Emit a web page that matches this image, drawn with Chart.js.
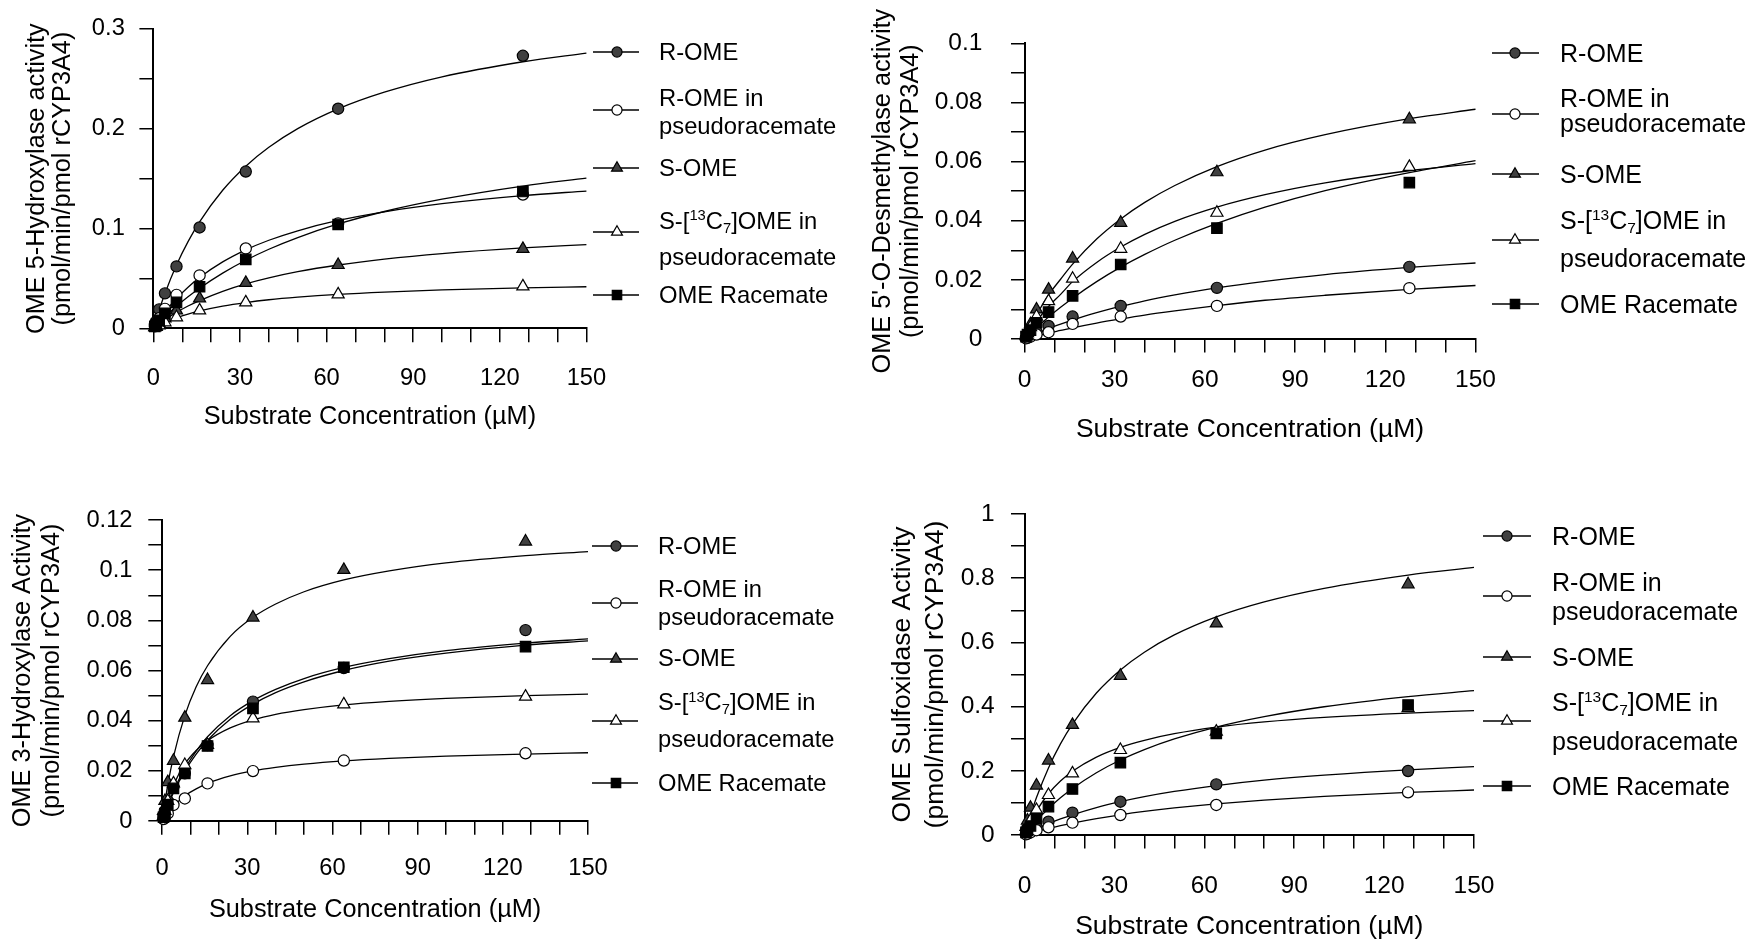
<!DOCTYPE html>
<html>
<head>
<meta charset="utf-8">
<title>OME metabolism by rCYP3A4</title>
<script src="https://cdn.jsdelivr.net/npm/chart.js@4.4.1/dist/chart.umd.min.js"></script>
<style>
	html, body { margin: 0; padding: 0; background: #fff; }
	body { width: 1752px; height: 941px; position: relative; overflow: hidden; }
	canvas.panel { position: absolute; }
</style>
</head>
<body>
<canvas class="panel" id="panel5oh" width="860" height="460" style="left:0px;top:0px"></canvas>
<canvas class="panel" id="panelOdm" width="892" height="460" style="left:860px;top:0px"></canvas>
<canvas class="panel" id="panel3oh" width="860" height="471" style="left:0px;top:470px"></canvas>
<canvas class="panel" id="panelSox" width="892" height="471" style="left:860px;top:470px"></canvas>
<script>
// Substrate concentrations (µM) of the measured points
const concentrations = [0.5, 1, 2, 4, 8, 16, 32, 64, 128];
const fitConcentrations = [0, 2, 4, 8, 12, 16, 24, 32, 40, 50, 64, 80, 100, 128, 150];
const xTickLabels = [0, 30, 60, 90, 120, 150];

// OME 5-hydroxylase activity
const oh5_rOme = [0.004, 0.007, 0.019, 0.035, 0.062, 0.101, 0.157, 0.220, 0.273];
const oh5_rOmePseudo = [0.002, 0.005, 0.010, 0.0195, 0.0335, 0.053, 0.080, 0.105, 0.134];
const oh5_sOme = [0.0015, 0.003, 0.005, 0.010, 0.018, 0.030, 0.0455, 0.0634, 0.0796];
const oh5_s13Pseudo = [0.001, 0.0015, 0.003, 0.006, 0.011, 0.018, 0.026, 0.034, 0.042];
const oh5_racemate = [0.002, 0.004, 0.008, 0.015, 0.026, 0.0416, 0.069, 0.104, 0.137];
const oh5_rOmeFit = [0, 0.0184, 0.0349, 0.0633, 0.0868, 0.1067, 0.1383, 0.1624, 0.1813, 0.2, 0.2198, 0.2365, 0.2519, 0.267, 0.2757];
const oh5_rOmePseudoFit = [0, 0.0086, 0.0163, 0.0298, 0.0412, 0.0509, 0.0665, 0.0786, 0.0882, 0.0977, 0.108, 0.1167, 0.1248, 0.1329, 0.1375];
const oh5_sOmeFit = [0, 0.0045, 0.0086, 0.0159, 0.0223, 0.0278, 0.0371, 0.0445, 0.0505, 0.0567, 0.0634, 0.0693, 0.0749, 0.0806, 0.0839];
const oh5_s13PseudoFit = [0, 0.0031, 0.0059, 0.0105, 0.0143, 0.0174, 0.0222, 0.0258, 0.0286, 0.0312, 0.034, 0.0363, 0.0384, 0.0405, 0.0416];
const oh5_racemateFit = [0, 0.006, 0.0116, 0.0221, 0.0316, 0.0402, 0.0553, 0.0682, 0.0792, 0.0909, 0.1045, 0.117, 0.1293, 0.1425, 0.1505];

// OME 5'-O-desmethylase activity
const odm_rOme = [0.0004, 0.0007, 0.0013, 0.0025, 0.0044, 0.0076, 0.0112, 0.0173, 0.0244];
const odm_rOmePseudo = [0.0002, 0.0004, 0.0008, 0.0015, 0.0023, 0.0051, 0.0076, 0.0112, 0.0172];
const odm_sOme = [0.0013, 0.0025, 0.005, 0.0100, 0.0167, 0.0272, 0.0393, 0.0564, 0.0743];
const odm_s13Pseudo = [0.001, 0.002, 0.004, 0.0076, 0.0128, 0.0204, 0.0305, 0.0427, 0.0582];
const odm_racemate = [0.0008, 0.0015, 0.003, 0.0055, 0.0091, 0.0146, 0.0252, 0.0375, 0.0529];
const odm_rOmeFit = [0, 0.0009, 0.0018, 0.0035, 0.005, 0.0064, 0.0089, 0.011, 0.0129, 0.0149, 0.0173, 0.0195, 0.0218, 0.0242, 0.0257];
const odm_rOmePseudoFit = [0, 0.0005, 0.001, 0.002, 0.0029, 0.0038, 0.0054, 0.0068, 0.0081, 0.0095, 0.0113, 0.0131, 0.0148, 0.0168, 0.0181];
const odm_sOmeFit = [0, 0.0042, 0.0081, 0.0149, 0.0202, 0.0253, 0.0338, 0.0406, 0.0462, 0.0519, 0.0583, 0.0639, 0.0691, 0.0745, 0.0777];
const odm_s13PseudoFit = [0, 0.0031, 0.006, 0.011, 0.0151, 0.0194, 0.0259, 0.0311, 0.0354, 0.0398, 0.0446, 0.0488, 0.0528, 0.0569, 0.0593];
const odm_racemateFit = [0, 0.002, 0.0038, 0.0074, 0.0107, 0.0138, 0.0194, 0.0243, 0.0286, 0.0334, 0.0391, 0.0446, 0.0502, 0.0563, 0.0603];

// OME 3-hydroxylase activity
const oh3_rOme = [0.002, 0.004, 0.008, 0.0137, 0.019, 0.0303, 0.0476, 0.061, 0.0761];
const oh3_rOmePseudo = [0.0008, 0.0015, 0.003, 0.0064, 0.009, 0.015, 0.0199, 0.0241, 0.027];
const oh3_sOme = [0.004, 0.008, 0.0155, 0.024, 0.0412, 0.0562, 0.0811, 0.1001, 0.1114];
const oh3_s13Pseudo = [0.002, 0.004, 0.008, 0.015, 0.0223, 0.0303, 0.0409, 0.0465, 0.0496];
const oh3_racemate = [0.0015, 0.003, 0.0065, 0.013, 0.019, 0.0299, 0.0449, 0.0613, 0.0695];
const oh3_rOmeFit = [0, 0.0064, 0.012, 0.0209, 0.0279, 0.0336, 0.042, 0.048, 0.0525, 0.0568, 0.0612, 0.0647, 0.0679, 0.0709, 0.0726];
const oh3_rOmePseudoFit = [0, 0.0033, 0.006, 0.01, 0.0128, 0.015, 0.018, 0.02, 0.0214, 0.0227, 0.024, 0.025, 0.0259, 0.0267, 0.0272];
const oh3_sOmeFit = [0, 0.0144, 0.0256, 0.042, 0.0535, 0.0619, 0.0736, 0.0812, 0.0865, 0.0914, 0.0961, 0.0997, 0.1029, 0.1058, 0.1074];
const oh3_s13PseudoFit = [0, 0.0082, 0.0143, 0.0227, 0.0281, 0.032, 0.0371, 0.0403, 0.0425, 0.0444, 0.0463, 0.0477, 0.0489, 0.05, 0.0506];
const oh3_racemateFit = [0, 0.0061, 0.0113, 0.0199, 0.0267, 0.0322, 0.0406, 0.0466, 0.0512, 0.0555, 0.06, 0.0637, 0.0669, 0.0701, 0.0718];

// OME sulfoxidase activity
const sox_rOme = [0.004, 0.007, 0.013, 0.025, 0.0415, 0.0696, 0.1038, 0.1578, 0.1994];
const sox_rOmePseudo = [0.002, 0.004, 0.008, 0.015, 0.0239, 0.0384, 0.0623, 0.0935, 0.1329];
const sox_sOme = [0.025, 0.045, 0.085, 0.154, 0.232, 0.343, 0.496, 0.659, 0.781];
const sox_s13Pseudo = [0.012, 0.025, 0.045, 0.078, 0.1246, 0.192, 0.2648, 0.322, 0.395];
const sox_racemate = [0.008, 0.014, 0.028, 0.052, 0.0883, 0.1433, 0.2253, 0.3167, 0.405];
const sox_rOmeFit = [0, 0.0097, 0.0187, 0.0352, 0.0499, 0.063, 0.0855, 0.104, 0.1196, 0.1358, 0.1541, 0.1709, 0.1864, 0.2031, 0.2129];
const sox_rOmePseudoFit = [0, 0.0055, 0.0107, 0.0203, 0.0291, 0.0371, 0.0511, 0.063, 0.0733, 0.0842, 0.0969, 0.1086, 0.1203, 0.1327, 0.1402];
const sox_sOmeFit = [0, 0.0619, 0.1166, 0.2088, 0.2837, 0.3456, 0.4422, 0.514, 0.5695, 0.6233, 0.6795, 0.7263, 0.7686, 0.8099, 0.8334];
const sox_s13PseudoFit = [0, 0.0412, 0.0753, 0.1285, 0.168, 0.1985, 0.2427, 0.273, 0.2951, 0.3155, 0.336, 0.3522, 0.3664, 0.3798, 0.3872];
const sox_racemateFit = [0, 0.023, 0.0443, 0.0822, 0.1158, 0.145, 0.194, 0.2336, 0.2661, 0.2994, 0.3363, 0.3687, 0.3995, 0.431, 0.4496];

(function() {
	'use strict';

	const FONT = '"Liberation Sans", Arial, Helvetica, sans-serif';
	const DARK = '#404040';

	/**
	 * Marker look of each series, in series order
	 */
	const seriesStyles = [
		{ shape: 'circle', fill: DARK, radius: 5.6 },
		{ shape: 'circle', fill: '#ffffff', radius: 5.6 },
		{ shape: 'triangle', fill: DARK, radius: 7 },
		{ shape: 'triangle', fill: '#ffffff', radius: 7 },
		{ shape: 'rect', fill: '#000000', radius: 7.4 }
	];

	// Legend text, one array of lines per series (sup / sub for the isotope label)
	const legendText = [
		[[{ t: 'R-OME' }]],
		[[{ t: 'R-OME in' }], [{ t: 'pseudoracemate' }]],
		[[{ t: 'S-OME' }]],
		[[{ t: 'S-[' }, { t: '13', sup: true }, { t: 'C' }, { t: '7', sub: true }, { t: ']OME in' }], [{ t: 'pseudoracemate' }]],
		[[{ t: 'OME Racemate' }]]
	];

	/**
	 * Panel layouts (page coordinates)
	 */
	const panels = [
		{
			canvas: 'panel5oh', left: 0, top: 0,
			area: { left: 153.4, top: 20.7, right: 586.4, bottom: 328.3 },
			yMax: 0.3, yStep: 0.05, yMajor: 0.1,
			yTitle: ['OME 5-Hydroxylase activity', '(pmol/min/pmol rCYP3A4)'],
			points: [oh5_rOme, oh5_rOmePseudo, oh5_sOme, oh5_s13Pseudo, oh5_racemate],
			fits: [oh5_rOmeFit, oh5_rOmePseudoFit, oh5_sOmeFit, oh5_s13PseudoFit, oh5_racemateFit],
			tickFont: 23.7, titleFont: 25.3, yTitleFont: 25.3, legendFont: 23.8,
			tickLength: 14, yPad: 14.6, xPad: 21.8,
			xTitleY: 417, yTitleX: 37.4, yTitleGap: 25.7,
			legend: {
				lineX0: 593, lineX1: 639, markerX: 617, textX: 659,
				markerY: [52, 110, 168, 232, 295],
				textY: [[52], [98, 125.7], [168], [220.5, 256.5], [295]]
			}
		},
		{
			canvas: 'panelOdm', left: 860, top: 0,
			area: { left: 1024.5, top: 21.7, right: 1475.5, bottom: 339 },
			yMax: 0.1, yStep: 0.01, yMajor: 0.02,
			yTitle: ["OME 5'-O-Desmethylase activity", '(pmol/min/pmol rCYP3A4)'],
			points: [odm_rOme, odm_rOmePseudo, odm_sOme, odm_s13Pseudo, odm_racemate],
			fits: [odm_rOmeFit, odm_rOmePseudoFit, odm_sOmeFit, odm_s13PseudoFit, odm_racemateFit],
			tickFont: 24.5, titleFont: 26.5, yTitleFont: 25.3, legendFont: 25,
			tickLength: 13.5, yPad: 28.6, xPad: 12.8,
			xTitleY: 430, yTitleX: 883.5, yTitleGap: 28,
			legend: {
				lineX0: 1492, lineX1: 1539, markerX: 1515, textX: 1560,
				markerY: [53, 114, 174, 240, 304],
				textY: [[53], [98.3, 123.3], [174], [220, 258], [304]]
			}
		},
		{
			canvas: 'panel3oh', left: 0, top: 470,
			area: { left: 162.1, top: 520, right: 588, bottom: 821 },
			yMax: 0.12, yStep: 0.01, yMajor: 0.02,
			yTitle: ['OME 3-Hydroxylase Activity', '(pmol/min/pmol rCYP3A4)'],
			points: [oh3_rOme, oh3_rOmePseudo, oh3_sOme, oh3_s13Pseudo, oh3_racemate],
			fits: [oh3_rOmeFit, oh3_rOmePseudoFit, oh3_sOmeFit, oh3_s13PseudoFit, oh3_racemateFit],
			tickFont: 23.7, titleFont: 25.3, yTitleFont: 25.3, legendFont: 23.7,
			tickLength: 13.8, yPad: 15.8, xPad: 19.3,
			xTitleY: 910, yTitleX: 23.5, yTitleGap: 29,
			legend: {
				lineX0: 592, lineX1: 638, markerX: 616, textX: 658,
				markerY: [546, 603, 659, 721, 783],
				textY: [[546], [589, 617], [658], [702, 739], [783]]
			}
		},
		{
			canvas: 'panelSox', left: 860, top: 470,
			area: { left: 1024.5, top: 514, right: 1474, bottom: 835 },
			yMax: 1, yStep: 0.1, yMajor: 0.2,
			yTitle: ['OME Sulfoxidase Activity', '(pmol/min/pmol rCYP3A4)'],
			points: [sox_rOme, sox_rOmePseudo, sox_sOme, sox_s13Pseudo, sox_racemate],
			fits: [sox_rOmeFit, sox_rOmePseudoFit, sox_sOmeFit, sox_s13PseudoFit, sox_racemateFit],
			tickFont: 24.5, titleFont: 26.5, yTitleFont: 26.5, legendFont: 25,
			tickLength: 13.5, yPad: 16.3, xPad: 23.5,
			xTitleY: 926.7, yTitleX: 902.9, yTitleGap: 32.6,
			legend: {
				lineX0: 1483, lineX1: 1531, markerX: 1507, textX: 1552,
				markerY: [536, 596, 657, 721, 786],
				textY: [[536], [582, 611], [657], [702, 741], [786]]
			}
		}
	];

	const OmeFigure = {

		/**
		 * Build all four panels
		 */
		init: function() {
			panels.forEach(this.renderPanel, this);
		},

		/**
		 * Tick label: drop trailing zeros ("0.1", "0.02", "0")
		 */
		formatValue: function(v) {
			return String(parseFloat(v.toFixed(4)));
		},

		/**
		 * Draw one marker shape
		 */
		drawMarker: function(ctx, style, x, y) {
			const r = style.radius;
			ctx.beginPath();
			if (style.shape === 'circle') {
				ctx.arc(x, y, r, 0, Math.PI * 2);
			} else if (style.shape === 'triangle') {
				ctx.moveTo(x, y - r);
				ctx.lineTo(x + r * 0.866, y + r * 0.5);
				ctx.lineTo(x - r * 0.866, y + r * 0.5);
				ctx.closePath();
			} else {
				const s = r * Math.SQRT1_2;
				ctx.rect(x - s, y - s, 2 * s, 2 * s);
			}
			ctx.fillStyle = style.fill;
			ctx.fill();
			ctx.lineWidth = 1.2;
			ctx.strokeStyle = '#000';
			ctx.stroke();
		},

		/**
		 * Draw one legend text line made of plain / sup / sub parts
		 */
		drawRichLine: function(ctx, parts, x, y, size) {
			let cx = x;
			parts.forEach(function(p) {
				let fs = size;
				let dy = 0;
				if (p.sup) { fs = size * 0.62; dy = -size * 0.36; }
				if (p.sub) { fs = size * 0.62; dy = size * 0.17; }
				ctx.font = fs + 'px ' + FONT;
				ctx.fillText(p.t, cx, y + dy);
				cx += ctx.measureText(p.t).width;
			});
		},

		/**
		 * Legend plugin for a panel (drawn to the right of the plot)
		 */
		legendPlugin: function(panel) {
			const self = this;
			return {
				id: 'panelLegend',
				afterDraw: function(chart) {
					const ctx = chart.ctx;
					const lg = panel.legend;
					const ox = panel.left;
					const oy = panel.top;
					ctx.save();
					ctx.textBaseline = 'alphabetic';
					ctx.textAlign = 'left';
					ctx.fillStyle = '#000';
					seriesStyles.forEach(function(style, i) {
						const my = lg.markerY[i] - oy;
						ctx.beginPath();
						ctx.moveTo(lg.lineX0 - ox, my);
						ctx.lineTo(lg.lineX1 - ox, my);
						ctx.lineWidth = 1.5;
						ctx.strokeStyle = '#000';
						ctx.stroke();
						self.drawMarker(ctx, { shape: style.shape, fill: style.fill, radius: style.radius * 0.9 }, lg.markerX - ox, my);
						ctx.fillStyle = '#000';
						legendText[i].forEach(function(line, j) {
							const baseline = lg.textY[i][j] - oy + panel.legendFont * 0.34;
							self.drawRichLine(ctx, line, lg.textX - ox, baseline, panel.legendFont);
						});
					});
					ctx.restore();
				}
			};
		},

		/**
		 * Create the Chart.js scatter chart for one panel
		 */
		renderPanel: function(panel) {
			const self = this;
			const canvas = document.getElementById(panel.canvas);
			const W = canvas.width;
			const H = canvas.height;
			const area = {
				left: panel.area.left - panel.left,
				right: panel.area.right - panel.left,
				top: panel.area.top - panel.top,
				bottom: panel.area.bottom - panel.top
			};

			const datasets = [];
			// measured points, racemate drawn on top
			panel.points.forEach(function(values, i) {
				const style = seriesStyles[i];
				datasets.push({
					label: 'points ' + i,
					data: concentrations.map(function(c, k) { return { x: c, y: values[k] }; }),
					showLine: false,
					pointStyle: style.shape,
					pointRadius: style.radius,
					pointBackgroundColor: style.fill,
					pointBorderColor: '#000',
					pointBorderWidth: 1.2,
					clip: false,
					order: 4 - i
				});
			});
			// fitted curves
			panel.fits.forEach(function(values, i) {
				datasets.push({
					label: 'fit ' + i,
					data: fitConcentrations.map(function(c, k) { return { x: c, y: values[k] }; }),
					showLine: true,
					pointRadius: 0,
					borderColor: '#000',
					borderWidth: 1.3,
					cubicInterpolationMode: 'monotone',
					fill: false,
					clip: false,
					order: 10
				});
			});

			const tickFont = { family: FONT, size: panel.tickFont, lineHeight: 1.2 };
			const xTitleFont = { family: FONT, size: panel.titleFont, lineHeight: 1.0 };
			const yTitleLH = panel.yTitleGap;
			const yTitleFont = { family: FONT, size: panel.yTitleFont, lineHeight: yTitleLH / panel.yTitleFont };

			new Chart(canvas.getContext('2d'), {
				type: 'scatter',
				data: { datasets: datasets },
				options: {
					responsive: false,
					animation: false,
					events: [],
					layout: {
						padding: { left: 0, top: area.top, right: W - area.right, bottom: 0 }
					},
					plugins: {
						legend: { display: false },
						tooltip: { enabled: false }
					},
					scales: {
						x: {
							type: 'linear',
							min: 0,
							max: 150,
							afterFit: function(scale) { scale.height = H - area.bottom; },
							border: { display: true, color: '#000', width: 2 },
							grid: { drawOnChartArea: false, drawTicks: true, tickLength: panel.tickLength, color: '#000', lineWidth: 1.5 },
							ticks: {
								stepSize: 10,
								autoSkip: false,
								maxRotation: 0,
								padding: panel.xPad,
								color: '#000',
								font: tickFont,
								callback: function(v) { return xTickLabels.indexOf(v) >= 0 ? String(v) : ''; }
							},
							title: {
								display: true,
								text: 'Substrate Concentration (µM)',
								color: '#000',
								font: xTitleFont,
								padding: { top: 0, bottom: H - (panel.xTitleY - panel.top) - panel.titleFont / 2 }
							}
						},
						y: {
							type: 'linear',
							min: 0,
							max: panel.yMax,
							afterFit: function(scale) { scale.width = area.left; },
							border: { display: true, color: '#000', width: 2 },
							grid: { drawOnChartArea: false, drawTicks: true, tickLength: panel.tickLength, color: '#000', lineWidth: 1.5 },
							ticks: {
								stepSize: panel.yStep,
								autoSkip: false,
								padding: panel.yPad,
								color: '#000',
								font: tickFont,
								callback: function(v) {
									const q = v / panel.yMajor;
									return Math.abs(q - Math.round(q)) < 1e-6 ? self.formatValue(v) : '';
								}
							},
							title: {
								display: true,
								text: panel.yTitle,
								color: '#000',
								font: yTitleFont,
								padding: { top: (panel.yTitleX - panel.left) - yTitleLH / 2, bottom: 0 }
							}
						}
					}
				},
				plugins: [this.legendPlugin(panel)]
			});
		}
	};

	OmeFigure.init();
})();
</script>
</body>
</html>
